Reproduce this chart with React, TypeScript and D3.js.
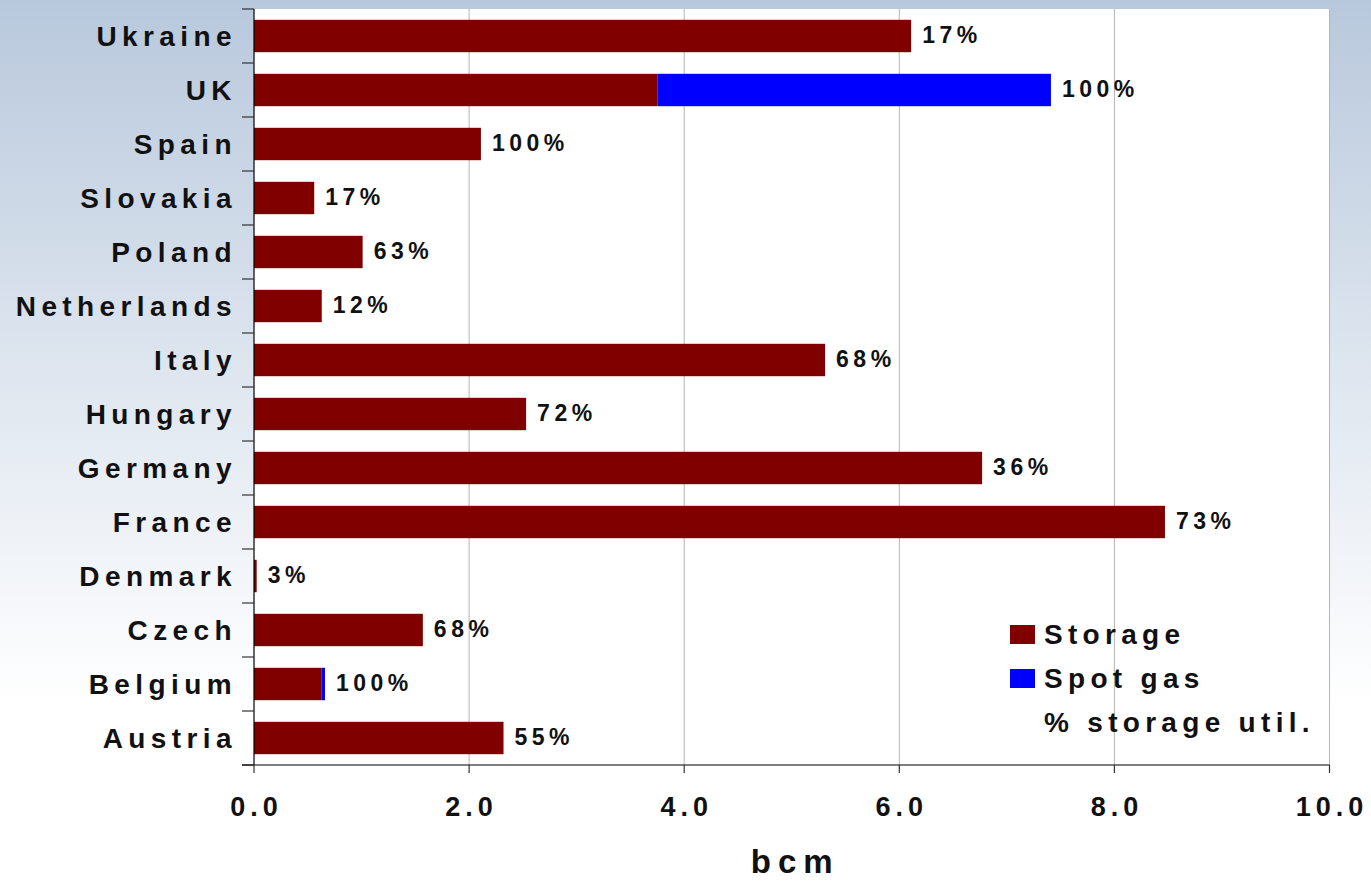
import React from "react";
import * as d3 from "d3";

// Gas supply by country, bcm
const countries = [
  "Ukraine", "UK", "Spain", "Slovakia", "Poland", "Netherlands", "Italy",
  "Hungary", "Germany", "France", "Denmark", "Czech", "Belgium", "Austria",
];
const storage = [6.11, 3.75, 2.11, 0.56, 1.01, 0.63, 5.31, 2.53, 6.77, 8.47, 0.025, 1.57, 0.63, 2.32];
const spotGas = [0, 3.66, 0, 0, 0, 0, 0, 0, 0, 0, 0, 0, 0.03, 0];
const utilisation = ["17%", "100%", "100%", "17%", "63%", "12%", "68%", "72%", "36%", "73%", "3%", "68%", "100%", "55%"];
const xTicks = [0, 2, 4, 6, 8, 10];
const legendItems = ["Storage", "Spot gas", "% storage util."];

const W = 1371;
const H = 882;
const FONT = "'Liberation Sans', Arial, sans-serif";
const STORAGE_COLOR = "#800000";
const SPOT_COLOR = "#0000ff";

export default function App() {
  const x = d3.scaleLinear().domain([0, 10]).range([254, 1329.5]);
  const y = d3
    .scaleBand<string>()
    .domain(countries)
    .range([9, 765])
    .paddingInner(0.4)
    .paddingOuter(0.2);

  const step = y.step();
  const top = 9;
  const bottom = 765;
  const boundaries = d3.range(countries.length + 1).map((i) => top + i * step);

  return (
    <svg
      width={W}
      height={H}
      style={{ position: "absolute", left: 0, top: 0, display: "block" }}
      fontFamily={FONT}
    >
      <defs>
        <linearGradient id="bg" x1="0" y1="0" x2="0" y2="1">
          <stop offset="0" stopColor="#b8c8dc" />
          <stop offset="0.35" stopColor="#d8e1ec" />
          <stop offset="0.8" stopColor="#ffffff" />
          <stop offset="1" stopColor="#ffffff" />
        </linearGradient>
      </defs>
      <rect x={0} y={0} width={W} height={H} fill="url(#bg)" />

      {/* plot area */}
      <rect x={x(0)} y={top} width={x(10) - x(0)} height={bottom - top} fill="#ffffff" />

      {/* vertical gridlines */}
      {xTicks.slice(1).map((t) => (
        <line key={t} x1={x(t)} x2={x(t)} y1={top} y2={bottom} stroke="#b4b4b4" strokeWidth={1} />
      ))}

      {/* bars */}
      {countries.map((c, i) => (
        <g key={c}>
          <rect x={x(0)} y={y(c)} width={x(storage[i]) - x(0)} height={y.bandwidth()} fill={STORAGE_COLOR} />
          {spotGas[i] > 0 && (
            <rect
              x={x(storage[i])}
              y={y(c)}
              width={x(storage[i] + spotGas[i]) - x(storage[i])}
              height={y.bandwidth()}
              fill={SPOT_COLOR}
            />
          )}
          <text
            x={x(storage[i] + spotGas[i]) + 11}
            y={(y(c) as number) + y.bandwidth() / 2 + 7}
            fontSize={23}
            fontWeight="bold"
            letterSpacing={4.5}
            fill="#111"
          >
            {utilisation[i]}
          </text>
          <text
            x={237}
            y={(y(c) as number) + y.bandwidth() / 2 + 9.7}
            fontSize={28}
            fontWeight="bold"
            letterSpacing={5.4}
            textAnchor="end"
            fill="#111"
          >
            {c}
          </text>
        </g>
      ))}

      {/* category axis */}
      <line x1={x(0)} x2={x(0)} y1={top} y2={bottom} stroke="#000" strokeWidth={1.2} />
      {boundaries.map((b, i) => (
        <line key={i} x1={242} x2={x(0)} y1={b} y2={b} stroke="#333" strokeWidth={1.2} />
      ))}

      {/* value axis */}
      <line x1={242} x2={x(10)} y1={bottom} y2={bottom} stroke="#000" strokeWidth={1.2} />
      {xTicks.map((t) => (
        <g key={t}>
          <line x1={x(t)} x2={x(t)} y1={bottom} y2={bottom + 8} stroke="#333" strokeWidth={1.2} />
          <text
            x={x(t) + 2.5}
            y={816}
            fontSize={27}
            fontWeight="bold"
            letterSpacing={5}
            textAnchor="middle"
            fill="#111"
          >
            {d3.format(".1f")(t)}
          </text>
        </g>
      ))}
      <text
        x={(x(0) + x(10)) / 2 + 3.5}
        y={873}
        fontSize={33}
        fontWeight="bold"
        letterSpacing={7}
        textAnchor="middle"
        fill="#111"
      >
        bcm
      </text>

      {/* legend */}
      <rect x={1010} y={625} width={25} height={19} fill={STORAGE_COLOR} />
      <rect x={1010} y={669} width={25} height={19} fill={SPOT_COLOR} />
      {legendItems.map((label, i) => (
        <text
          key={label}
          x={1044}
          y={644 + i * 44}
          fontSize={28}
          fontWeight="bold"
          letterSpacing={5.3}
          fill="#111"
        >
          {label}
        </text>
      ))}
    </svg>
  );
}
